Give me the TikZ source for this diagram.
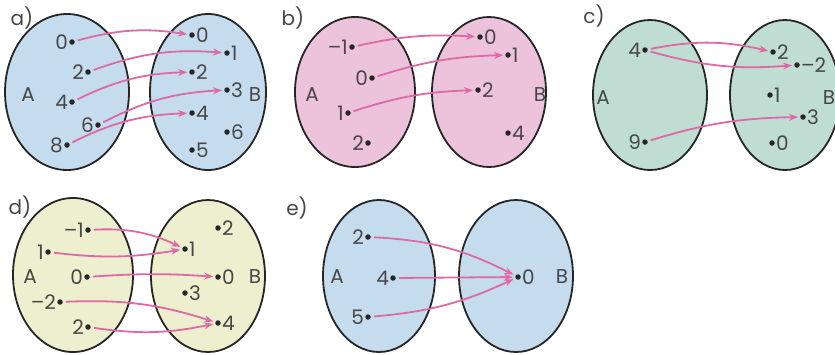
\documentclass[tikz,border=0pt]{standalone}
\usepackage{fontspec}
\setmainfont{Poppins}
\usetikzlibrary{arrows.meta}
\definecolor{setblue}{RGB}{197,220,238}
\definecolor{setpink}{RGB}{237,195,220}
\definecolor{setgreen}{RGB}{191,221,211}
\definecolor{setyellow}{RGB}{238,239,207}
\definecolor{arrpink}{RGB}{222,105,165}
\tikzset{
  set/.style={draw=black!85, line width=1.8pt},
  pt/.style={circle, fill=black!85, inner sep=0pt, minimum size=5.5pt},
  txt/.style={font=\fontsize{20}{20}\selectfont, text=black!72, inner sep=1pt},
  L/.style={pt, label={[txt]left:#1}},
  R/.style={pt, label={[txt]right:#1}},
  arr/.style={->, draw=arrpink, line width=1.8pt, shorten <=3pt, shorten >=2pt},
}
\begin{document}
\begin{tikzpicture}[x=1pt, y=-1pt, >={Stealth[length=9pt, width=7pt]}]
\useasboundingbox (0,0) rectangle (835,354);
\fill[white] (0,0) rectangle (835,354);
% a)
\node[txt] (la) at (22,18) {a)};
\draw[set, fill=setblue] (67,92) ellipse [x radius=62, y radius=78];
\draw[set, fill=setblue] (208,92) ellipse [x radius=58, y radius=78];
\node[txt] (aA) at (28,95) {A};
\node[txt] (aB) at (255,95) {B};
\foreach \n/\x/\y in {0/72/42, 2/88/72, 4/72/102, 6/98/125, 8/67/145}
    \node[L=\n] (aA\n) at (\x,\y) {};
\foreach \n/\x/\y in {0/192/35, 1/227/53, 2/192/72, 3/227/90, 4/192/113, 6/227/132, 5/192/150}
    \node[R=\n] (aB\n) at (\x,\y) {};
\foreach \s/\t in {0/0, 2/1, 4/2, 6/3, 8/4}
    \draw[arr] (aA\s) to[bend left=12] (aB\t);
% b)
\node[txt] (lb) at (293,18) {b)};
\draw[set, fill=setpink] (355,92) ellipse [x radius=60, y radius=75];
\draw[set, fill=setpink] (489,92) ellipse [x radius=57, y radius=75];
\node[txt] (bA) at (312,95) {A};
\node[txt] (bB) at (540,95) {B};
\foreach \n/\t/\x/\y in {m1/{–1}/352/47, 0/0/372/78, 1/1/348/113, 2/2/368/143}
    \node[L=\t] (bA\n) at (\x,\y) {};
\foreach \n/\x/\y in {0/480/37, 1/508/55, 2/478/90, 4/508/133}
    \node[R=\n] (bB\n) at (\x,\y) {};
\foreach \s/\t in {m1/0, 0/1, 1/2}
    \draw[arr] (bA\s) to[bend left=8] (bB\t);
% c)
\node[txt] (lc) at (594,16) {c)};
\draw[set, fill=setgreen] (650,95) ellipse [x radius=57, y radius=75];
\draw[set, fill=setgreen] (785,95) ellipse [x radius=55, y radius=75];
\node[txt] (cA) at (603,98) {A};
\node[txt] (cB) at (829,98) {B};
\foreach \n/\x/\y in {4/645/50, 9/645/142}
    \node[L=\n] (cA\n) at (\x,\y) {};
\foreach \n/\t/\x/\y in {2/2/773/52, m2/{–2}/797/65, 1/1/770/95, 3/3/803/117, 0/0/772/143}
    \node[R=\t] (cB\n) at (\x,\y) {};
\draw[arr] (cA4) to[bend left=12] (cB2);
\draw[arr] (cA4) to[bend right=10] (cBm2);
\draw[arr] (cA9) to[bend left=8] (cB3);
% d)
\node[txt] (ld) at (20,207) {d)};
\draw[set, fill=setyellow] (73,275) ellipse [x radius=60, y radius=77];
\draw[set, fill=setyellow] (208,276) ellipse [x radius=57, y radius=76];
\node[txt] (dA) at (30,277) {A};
\node[txt] (dB) at (255,277) {B};
\foreach \n/\t/\x/\y in {m1/{–1}/88/230, 1/1/48/252, 0/0/87/277, m2/{–2}/60/302, 2/2/88/327}
    \node[L=\t] (dA\n) at (\x,\y) {};
\foreach \n/\x/\y in {2/218/228, 1/185/249, 0/218/277, 3/185/293, 4/218/323}
    \node[R=\n] (dB\n) at (\x,\y) {};
\draw[arr] (dAm1) to[bend left=14] (dB1);
\draw[arr] (dA1) to[bend right=8] (dB1);
\draw[arr] (dA0) to[bend left=4] (dB0);
\draw[arr] (dAm2) to[bend left=10] (dB4);
\draw[arr] (dA2) to[bend right=10] (dB4);
% e)
\node[txt] (le) at (297,208) {e)};
\draw[set, fill=setblue] (379,276) ellipse [x radius=56, y radius=76];
\draw[set, fill=setblue] (516,276) ellipse [x radius=57, y radius=76];
\node[txt] (eA) at (337,277) {A};
\node[txt] (eB) at (562,277) {B};
\foreach \n/\x/\y in {2/368/237, 4/393/278, 5/368/317}
    \node[L=\n] (eA\n) at (\x,\y) {};
\node[R=0] (eB0) at (518,277) {};
\draw[arr] (eA2) to[bend left=12] (eB0);
\draw[arr] (eA4) -- (eB0);
\draw[arr] (eA5) to[bend right=10] (eB0);

\end{tikzpicture}
\end{document}
